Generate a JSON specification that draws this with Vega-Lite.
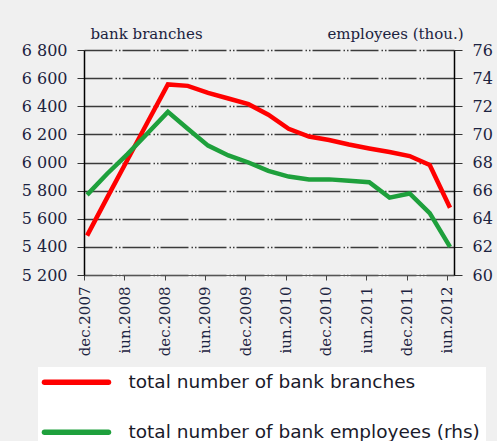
{
  "$schema": "https://vega.github.io/schema/vega-lite/v6.json",
  "width": 370,
  "height": 225,
  "autosize": {"type": "none"},
  "padding": {"left": 84, "top": 50, "right": 43, "bottom": 166},
  "background": "#f0f0f0",
  "config": {
    "view": {"stroke": null},
    "axis": {
      "labelFont": "DejaVu Serif",
      "labelColor": "#1c2340",
      "titleFont": "DejaVu Serif",
      "titleFontWeight": "normal",
      "titleColor": "#1c2340"
    }
  },
  "data": {
    "values": [
      {"date": "2007-12-15", "series": "total number of bank branches", "value": 5480},
      {"date": "2008-03-15", "series": "total number of bank branches", "value": 5750},
      {"date": "2008-06-15", "series": "total number of bank branches", "value": 6020},
      {"date": "2008-09-15", "series": "total number of bank branches", "value": 6290},
      {"date": "2008-12-15", "series": "total number of bank branches", "value": 6555},
      {"date": "2009-03-15", "series": "total number of bank branches", "value": 6545},
      {"date": "2009-06-15", "series": "total number of bank branches", "value": 6495},
      {"date": "2009-09-15", "series": "total number of bank branches", "value": 6455},
      {"date": "2009-12-15", "series": "total number of bank branches", "value": 6415},
      {"date": "2010-03-15", "series": "total number of bank branches", "value": 6340},
      {"date": "2010-06-15", "series": "total number of bank branches", "value": 6240},
      {"date": "2010-09-15", "series": "total number of bank branches", "value": 6185},
      {"date": "2010-12-15", "series": "total number of bank branches", "value": 6160},
      {"date": "2011-03-15", "series": "total number of bank branches", "value": 6128},
      {"date": "2011-06-15", "series": "total number of bank branches", "value": 6100},
      {"date": "2011-09-15", "series": "total number of bank branches", "value": 6075},
      {"date": "2011-12-15", "series": "total number of bank branches", "value": 6046},
      {"date": "2012-03-15", "series": "total number of bank branches", "value": 5982},
      {"date": "2012-06-15", "series": "total number of bank branches", "value": 5678},
      {"date": "2007-12-15", "series": "total number of bank employees (rhs)", "value": 65.7},
      {"date": "2008-03-15", "series": "total number of bank employees (rhs)", "value": 67.2},
      {"date": "2008-06-15", "series": "total number of bank employees (rhs)", "value": 68.6},
      {"date": "2008-09-15", "series": "total number of bank employees (rhs)", "value": 70.1},
      {"date": "2008-12-15", "series": "total number of bank employees (rhs)", "value": 71.6},
      {"date": "2009-03-15", "series": "total number of bank employees (rhs)", "value": 70.4},
      {"date": "2009-06-15", "series": "total number of bank employees (rhs)", "value": 69.2},
      {"date": "2009-09-15", "series": "total number of bank employees (rhs)", "value": 68.5},
      {"date": "2009-12-15", "series": "total number of bank employees (rhs)", "value": 68.0},
      {"date": "2010-03-15", "series": "total number of bank employees (rhs)", "value": 67.4},
      {"date": "2010-06-15", "series": "total number of bank employees (rhs)", "value": 67.0},
      {"date": "2010-09-15", "series": "total number of bank employees (rhs)", "value": 66.8},
      {"date": "2010-12-15", "series": "total number of bank employees (rhs)", "value": 66.8},
      {"date": "2011-03-15", "series": "total number of bank employees (rhs)", "value": 66.7},
      {"date": "2011-06-15", "series": "total number of bank employees (rhs)", "value": 66.6},
      {"date": "2011-09-15", "series": "total number of bank employees (rhs)", "value": 65.5},
      {"date": "2011-12-15", "series": "total number of bank employees (rhs)", "value": 65.8},
      {"date": "2012-03-15", "series": "total number of bank employees (rhs)", "value": 64.4},
      {"date": "2012-06-15", "series": "total number of bank employees (rhs)", "value": 62.0}
    ]
  },
  "encoding": {
    "x": {
      "field": "date",
      "type": "temporal",
      "scale": {
        "type": "utc",
        "domain": [
          {"year": 2007, "month": 12, "date": 1, "utc": true},
          {"year": 2012, "month": 7, "date": 3, "utc": true}
        ]
      },
      "axis": {
        "title": null,
        "grid": false,
        "values": [
          {"year": 2007, "month": 12, "date": 1, "utc": true},
          {"year": 2008, "month": 6, "date": 1, "utc": true},
          {"year": 2008, "month": 12, "date": 1, "utc": true},
          {"year": 2009, "month": 6, "date": 1, "utc": true},
          {"year": 2009, "month": 12, "date": 1, "utc": true},
          {"year": 2010, "month": 6, "date": 1, "utc": true},
          {"year": 2010, "month": 12, "date": 1, "utc": true},
          {"year": 2011, "month": 6, "date": 1, "utc": true},
          {"year": 2011, "month": 12, "date": 1, "utc": true},
          {"year": 2012, "month": 6, "date": 1, "utc": true}
        ],
        "labelExpr": "(utcFormat(datum.value, '%m') == '12' ? 'dec.' : 'iun.') + utcFormat(datum.value, '%Y')",
        "labelAngle": -90,
        "labelFontSize": 15,
        "labelPadding": 6,
        "tickSize": 5,
        "tickColor": "#444",
        "domainColor": "#555",
        "domainWidth": 1.2,
        "labelOverlap": false
      }
    },
    "color": {
      "field": "series",
      "type": "nominal",
      "scale": {
        "domain": ["total number of bank branches", "total number of bank employees (rhs)"],
        "range": ["#ff0000", "#1ea03c"]
      },
      "legend": {
        "title": null,
        "orient": "none",
        "legendX": -46,
        "legendY": 317,
        "fillColor": "#ffffff",
        "padding": 6,
        "symbolType": "M-1.46,0H9.2",
        "symbolSize": 144,
        "symbolStrokeWidth": 5.5,
        "symbolStrokeColor": {"expr": "datum.value === 'total number of bank employees (rhs)' ? '#008000' : '#ff0000'"},
        "labelFont": "DejaVu Sans",
        "labelFontSize": 18.5,
        "labelColor": "#1a1a2a",
        "labelOffset": 66,
        "labelLimit": 0,
        "rowPadding": 27,
        "encode": {
          "symbols": {
            "update": {
              "strokeCap": {"value": "round"}
            }
          }
        }
      }
    }
  },
  "layer": [
    {
      "transform": [{"filter": "datum.series === 'total number of bank branches'"}],
      "mark": {"type": "line", "strokeWidth": 4.5},
      "encoding": {
        "y": {
          "field": "value",
          "type": "quantitative",
          "scale": {"domain": [5200, 6800], "zero": false, "nice": false},
          "axis": {
            "orient": "left",
            "values": [5200, 5400, 5600, 5800, 6000, 6200, 6400, 6600, 6800],
            "labelExpr": "replace(format(datum.value, ','), ',', ' ')",
            "labelFontSize": 16,
            "labelPadding": 10,
            "tickSize": 7,
            "tickColor": "#333",
            "domainColor": "#000",
            "domainWidth": 1.5,
            "grid": true,
            "gridColor": "#3a3a3a",
            "gridWidth": 1.3,
            "gridDash": [28, 3, 1.5, 2, 1.5, 2],
            "title": "bank branches",
            "titleAngle": 0,
            "titleAlign": "left",
            "titleBaseline": "alphabetic",
            "titleX": 6,
            "titleY": -12,
            "titleFontSize": 15
          }
        }
      }
    },
    {
      "transform": [{"filter": "datum.series === 'total number of bank employees (rhs)'"}],
      "mark": {"type": "line", "strokeWidth": 4.5},
      "encoding": {
        "y": {
          "field": "value",
          "type": "quantitative",
          "scale": {"domain": [60, 76], "zero": false, "nice": false},
          "axis": {
            "orient": "right",
            "values": [60, 62, 64, 66, 68, 70, 72, 74, 76],
            "labelFontSize": 16,
            "labelPadding": 10,
            "tickSize": 8,
            "tickColor": "#333",
            "domainColor": "#000",
            "domainWidth": 1.5,
            "grid": false,
            "title": "employees (thou.)",
            "titleAngle": 0,
            "titleAlign": "right",
            "titleBaseline": "alphabetic",
            "titleX": 9,
            "titleY": -12,
            "titleFontSize": 15
          }
        }
      }
    }
  ],
  "resolve": {"scale": {"y": "independent"}}
}
